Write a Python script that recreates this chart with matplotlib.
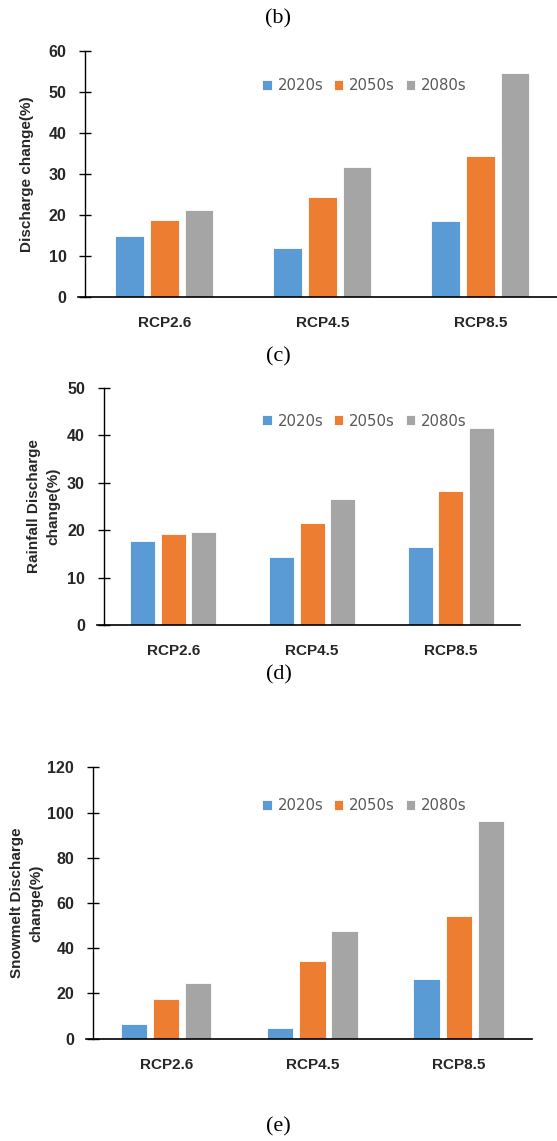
import numpy as np
import matplotlib
matplotlib.use("Agg")
import matplotlib.pyplot as plt

# data
scenarios = ["RCP2.6", "RCP4.5", "RCP8.5"]
periods = ["2020s", "2050s", "2080s"]

discharge = {
    "2020s": [15.0, 12.0, 18.5],
    "2050s": [18.9, 24.5, 34.5],
    "2080s": [21.1, 31.8, 54.6],
}
rainfall = {
    "2020s": [17.7, 14.3, 16.4],
    "2050s": [19.1, 21.5, 28.3],
    "2080s": [19.6, 26.6, 41.6],
}
snowmelt = {
    "2020s": [6.5, 4.7, 26.2],
    "2050s": [17.4, 34.4, 54.3],
    "2080s": [24.5, 47.5, 96.4],
}

COLORS = ["#5B9BD5", "#ED7D31", "#A5A5A5"]
W, H = 557, 1141


def bar_panel(fig, rect, data, ymax, ystep, ylabel, ylabel_x, legend_y, lbl_space=1.0):
    ax = fig.add_axes(rect)
    x = np.arange(len(scenarios))
    width = 0.18
    step = 0.22
    for i, p in enumerate(periods):
        ax.bar(x + (i - 1) * step, data[p], width, color=COLORS[i],
               edgecolor="white", linewidth=0.6, label=p, zorder=2)

    ax.set_xlim(-0.5, 2.5)
    ax.set_ylim(0, ymax)
    ax.set_yticks(np.arange(0, ymax + 1, ystep))
    ax.set_xticks(x)
    ax.set_xticklabels(scenarios)

    for s in ["top", "right"]:
        ax.spines[s].set_visible(False)
    ax.spines["left"].set_linewidth(1.0)
    ax.spines["bottom"].set_linewidth(1.2)
    # x axis line pokes a little past the y axis, like Excel
    ax.axhline(0, xmin=-0.015, xmax=0, color="black", lw=1.2, clip_on=False)

    ax.tick_params(axis="y", direction="inout", length=9, width=1.0, pad=9,
                   labelsize=11.5, labelcolor="#262626")
    ax.tick_params(axis="x", length=0, pad=14, labelsize=11, labelcolor="#262626")
    for t in ax.get_xticklabels() + ax.get_yticklabels():
        t.set_fontweight("bold")
        t.set_family("Liberation Sans")

    fig.text(ylabel_x / W, rect[1] + rect[3] / 2, ylabel, rotation=90,
             ha="center", va="center", fontsize=11, fontweight="bold",
             family="Liberation Sans", color="#262626", linespacing=lbl_space)

    leg = ax.legend(loc="center left", bbox_to_anchor=(262 / W, 1 - legend_y / H),
                    bbox_transform=fig.transFigure, ncol=3, frameon=False,
                    fontsize=10.7, handlelength=0.65, handleheight=0.65,
                    handletextpad=0.4, columnspacing=0.7,
                    borderaxespad=0, borderpad=0)
    for t in leg.get_texts():
        t.set_color("#595959")
    return ax


fig = plt.figure(figsize=(W / 100, H / 100), dpi=100)

bar_panel(fig, [85.3 / W, 1 - 297 / H, 474 / W, 246 / H], discharge, 60, 10,
          "Discharge change(%)", 26.6, 86)
bar_panel(fig, [103.7 / W, 1 - 625 / H, 416.7 / W, 237.3 / H], rainfall, 50, 10,
          "Rainfall Discharge\nchange(%)", 43.7, 421, lbl_space=1.5)
bar_panel(fig, [93 / W, 1 - 1038.7 / H, 438.8 / W, 271.4 / H], snowmelt, 120, 20,
          "Snowmelt Discharge\nchange(%)", 26.7, 806, lbl_space=1.5)

for lab, y in [("(b)", 19), ("(c)", 357), ("(d)", 675), ("(e)", 1127)]:
    fig.text(278.5 / W, 1 - y / H, lab, ha="center", va="center",
             fontsize=16, family="Liberation Serif")

plt.savefig("out.png", dpi=100)
